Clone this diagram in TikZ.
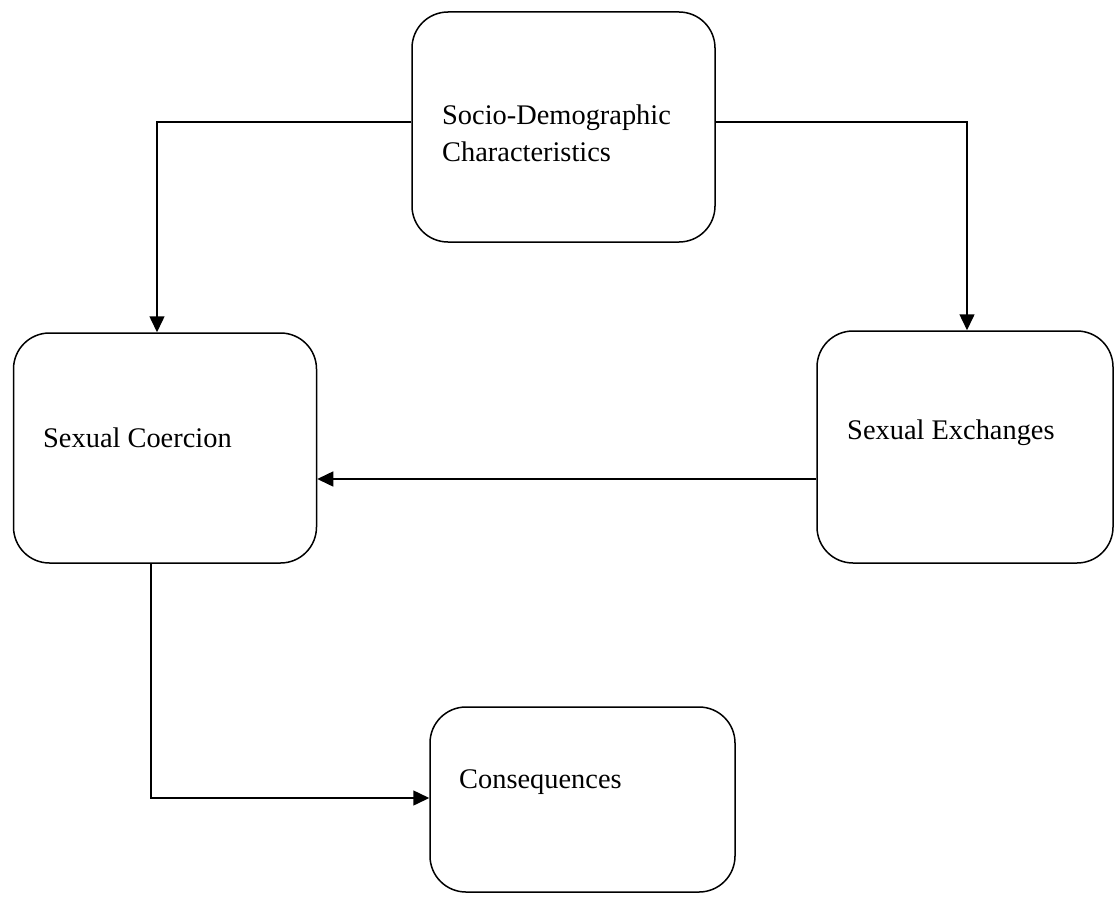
\documentclass[tikz,border=0pt]{standalone}
\usepackage{fontspec}
\setmainfont{Liberation Serif}
\usetikzlibrary{arrows.meta}
\begin{document}
\begin{tikzpicture}[x=1pt,y=-1pt,
  box/.style={draw,line width=1.5pt,rounded corners=36pt,minimum width=303pt,inner sep=0pt},
  lbl/.style={anchor=west,inner sep=0pt,align=left,font=\fontsize{28.4}{37}\selectfont},
  arr/.style={line width=1.5pt,-{Triangle[length=16pt,width=15pt]}}]
\useasboundingbox (0,0) rectangle (1115,907);
% boxes
\node[box,minimum height=230pt] (top) at (563.5,127) {};
\node[box,minimum height=230pt] (coer) at (165,448) {};
\node[box,minimum height=232pt,minimum width=296pt] (exch) at (965,447) {};
\node[box,minimum height=185pt,minimum width=305pt] (cons) at (582.5,799.5) {};
% labels
\node[lbl] (ttop) at (442,133.5) {Socio-Demographic\\Characteristics};
\node[lbl] (tcoer) at (43,438) {Sexual Coercion};
\node[lbl] (texch) at (847,433) {Sexual Exchanges};
\node[lbl] (tcons) at (459,782) {Consequences};
% connectors
\coordinate (tl) at (157,122);
\coordinate (tr) at (967,122);
\coordinate (mid) at (500,479);
\coordinate (bl) at (151,798);
\draw[arr] (top.west |- tl) -| (tl |- coer.north);
\draw[arr] (top.east |- tr) -| (tr |- exch.north);
\draw[arr] (exch.west |- mid) -- (coer.east |- mid);
\draw[arr] (bl |- coer.south) |- (cons.west |- bl);
\end{tikzpicture}
\end{document}
